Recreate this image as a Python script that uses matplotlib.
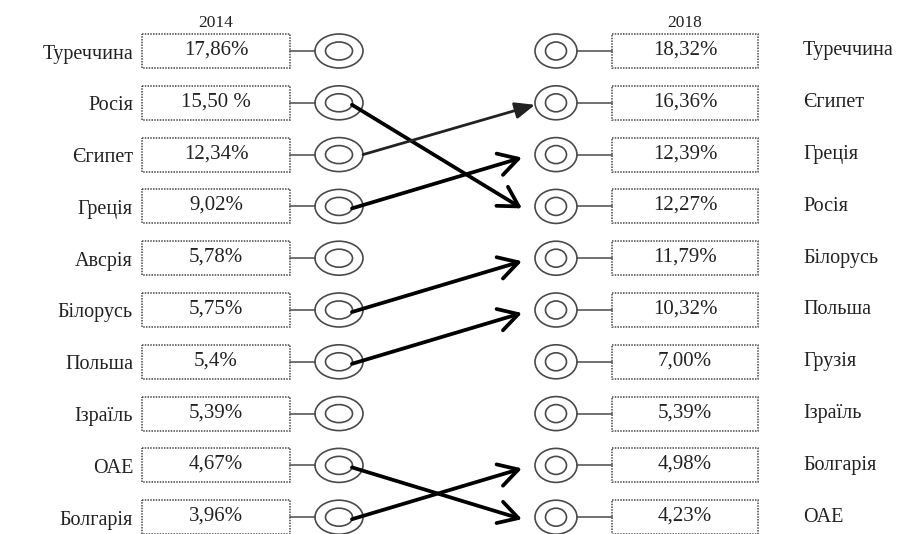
import matplotlib.pyplot as plt
from matplotlib.patches import Ellipse, Rectangle

countries_2014 = ["Туреччина", "Росія", "Єгипет", "Греція", "Авсрія",
                  "Білорусь", "Польша", "Ізраїль", "ОАЕ", "Болгарія"]
values_2014 = ["17,86%", "15,50 %", "12,34%", "9,02%", "5,78%",
               "5,75%", "5,4%", "5,39%", "4,67%", "3,96%"]

countries_2018 = ["Туреччина", "Єгипет", "Греція", "Росія", "Білорусь",
                  "Польша", "Грузія", "Ізраїль", "Болгарія", "ОАЕ"]
values_2018 = ["18,32%", "16,36%", "12,39%", "12,27%", "11,79%",
               "10,32%", "7,00%", "5,39%", "4,98%", "4,23%"]

years = ["2014", "2018"]

W, H = 922, 534
fig = plt.figure(figsize=(W / 100, H / 100), dpi=100)
ax = fig.add_axes([0, 0, 1, 1])
ax.set_xlim(0, W)
ax.set_ylim(H, 0)
ax.axis("off")

serif = ["Liberation Serif", "DejaVu Serif"]
txt_c = "#222222"
edge_c = "#4a4a4a"

y0, dy = 51, 51.8
box_h = 34
lbox = (142, 290)
rbox = (612, 758)
lcirc, rcirc = 339, 556


def row_y(i):
    return y0 + i * dy


def draw_box(x0, x1, y, text):
    ax.add_patch(Rectangle((x0, y - box_h / 2), x1 - x0, box_h, fill=False,
                           ec=edge_c, lw=1.1, ls=(0, (1, 0.8))))
    ax.text((x0 + x1) / 2, y - 1, text, ha="center", va="center",
            fontsize=15, family=serif, color=txt_c)


def draw_target(cx, y, rx, inner_rx):
    ax.add_patch(Ellipse((cx, y), 2 * rx, 34, fill=False, ec=edge_c, lw=1.2))
    ax.add_patch(Ellipse((cx, y), 2 * inner_rx, 18, fill=False, ec=edge_c, lw=1.2))


for i, (name, val) in enumerate(zip(countries_2014, values_2014)):
    y = row_y(i)
    ax.text(133, y + 3, name, ha="right", va="center", fontsize=14.5,
            family=serif, color=txt_c)
    draw_box(lbox[0], lbox[1], y, val)
    ax.plot([lbox[1], lcirc - 24], [y, y], color=edge_c, lw=1.1)
    draw_target(lcirc, y, 24, 13.5)

for i, (name, val) in enumerate(zip(countries_2018, values_2018)):
    y = row_y(i)
    draw_target(rcirc, y, 21, 10.5)
    ax.plot([rcirc + 21, rbox[0]], [y, y], color=edge_c, lw=1.1)
    draw_box(rbox[0], rbox[1], y, val)
    ax.text(803, y, name, ha="left", va="center", fontsize=14.5,
            family=serif, color=txt_c)

ax.text((lbox[0] + lbox[1]) / 2, 23, years[0], ha="center", va="center",
        fontsize=12.5, family=serif, color=txt_c)
ax.text((rbox[0] + rbox[1]) / 2, 23, years[1], ha="center", va="center",
        fontsize=12.5, family=serif, color=txt_c)

# arrows for countries that changed rank
for i, name in enumerate(countries_2014):
    if name not in countries_2018:
        continue
    j = countries_2018.index(name)
    if j == i:
        continue
    if name == "Єгипет":
        ax.annotate("", xy=(rcirc - 21, row_y(j) + 2), xytext=(lcirc + 24, row_y(i)),
                    arrowprops=dict(arrowstyle="-|>,head_length=0.6,head_width=0.25",
                                    mutation_scale=20, color="#222222", lw=2.0,
                                    shrinkA=0, shrinkB=0))
    else:
        ax.annotate("", xy=(522, row_y(j) + (2 if j > i else 3)),
                    xytext=(lcirc + 13, row_y(i) + 2),
                    arrowprops=dict(arrowstyle="->,head_length=0.7,head_width=0.4",
                                    mutation_scale=20, color="black", lw=2.7,
                                    shrinkA=0, shrinkB=0))

fig.savefig("out.png", dpi=100)
